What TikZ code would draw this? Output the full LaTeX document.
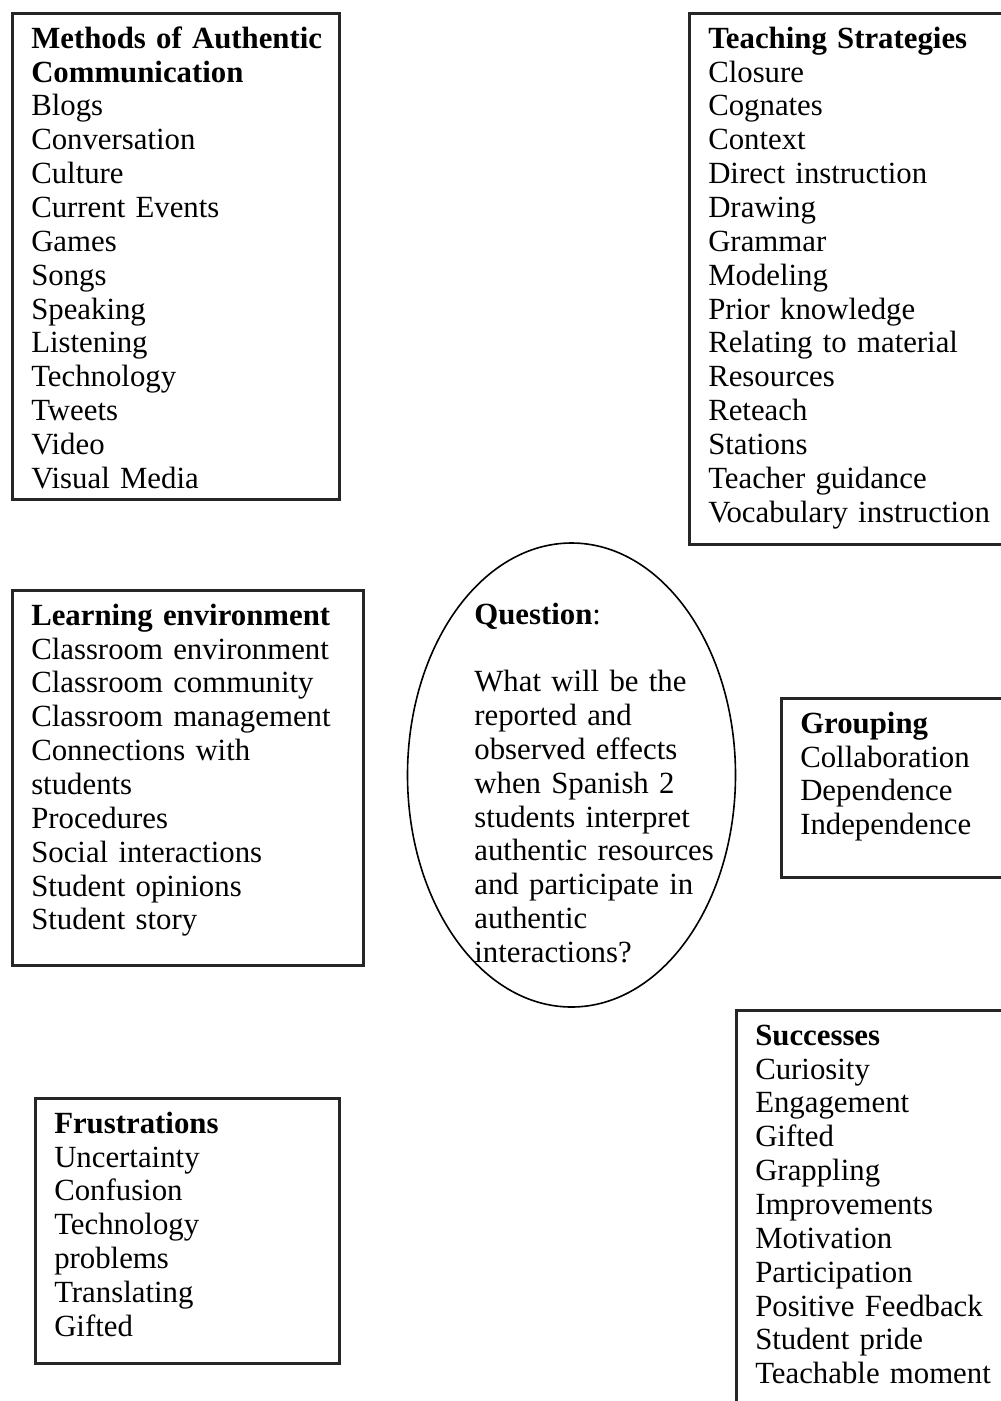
\documentclass[tikz,border=0pt]{standalone}
\usepackage{fontspec}
\setmainfont{Liberation Serif}
\usetikzlibrary{shapes.geometric}
\newcommand{\mapfont}{\fontsize{30.8}{33.85}\selectfont}
\tikzset{every picture/.style={line width=0.75pt}}
\tikzset{
  catbox/.style={draw=black!85, line width=2.5pt, anchor=north west, align=left,
    inner xsep=19pt, inner ysep=15pt, text height=20pt, font=\mapfont},
  questionshape/.style={draw, ellipse, line width=1.6pt, minimum width=328pt, minimum height=464pt},
  questiontext/.style={anchor=base west, align=left, inner sep=0pt, text width=262pt, font=\mapfont}
}

\begin{document}
\begin{tikzpicture}[x=1pt,y=1pt,yscale=-1,xscale=1]
\useasboundingbox (0,0) rectangle (1001,1401);
\clip (0,0) rectangle (1001,1401);

%Box: methods
\node [catbox, text width=289pt, text depth=436pt] (methods) at (11,12)
  {\mbox{\textbf{Methods of Authentic}}\\\textbf{Communication}\\Blogs\\Conversation\\Culture\\Current Events\\Games\\Songs\\Speaking\\Listening\\Technology\\Tweets\\Video\\Visual Media};
%Box: teaching strategies
\node [catbox, text width=334pt, text depth=481pt] (strategies) at (688,12)
  {\textbf{Teaching Strategies}\\Closure\\Cognates\\Context\\Direct instruction\\Drawing\\Grammar\\Modeling\\Prior knowledge\\Relating to material\\Resources\\Reteach\\Stations\\Teacher guidance\\Vocabulary instruction};
%Box: learning environment
\node [catbox, text width=313pt, text depth=325pt] (environment) at (11,589)
  {\textbf{Learning environment}\\Classroom environment\\Classroom community\\Classroom management\\Connections with\\students\\Procedures\\Social interactions\\Student opinions\\Student story};
%Ellipse: question
\node [questionshape] (question) at (571.5,775) {};
\node [questiontext] (questionlabel) at (474,624)
  {\textbf{Question}:\\[33.85pt]What will be the\\reported and\\observed effects\\when Spanish 2\\students interpret\\authentic resources\\and participate in\\authentic\\interactions?};
%Box: grouping
\node [catbox, text width=242pt, text depth=129pt] (grouping) at (780,697)
  {\textbf{Grouping}\\Collaboration\\Dependence\\Independence};
%Box: frustrations
\node [catbox, text width=266pt, text depth=215pt] (frustrations) at (34,1097)
  {\textbf{Frustrations}\\Uncertainty\\Confusion\\Technology\\problems\\Translating\\Gifted};
%Box: successes
\node [catbox, text width=287pt, text depth=500pt] (successes) at (735,1009)
  {\textbf{Successes}\\Curiosity\\Engagement\\Gifted\\Grappling\\Improvements\\Motivation\\Participation\\Positive Feedback\\Student pride\\Teachable moment};

\end{tikzpicture}
\end{document}
